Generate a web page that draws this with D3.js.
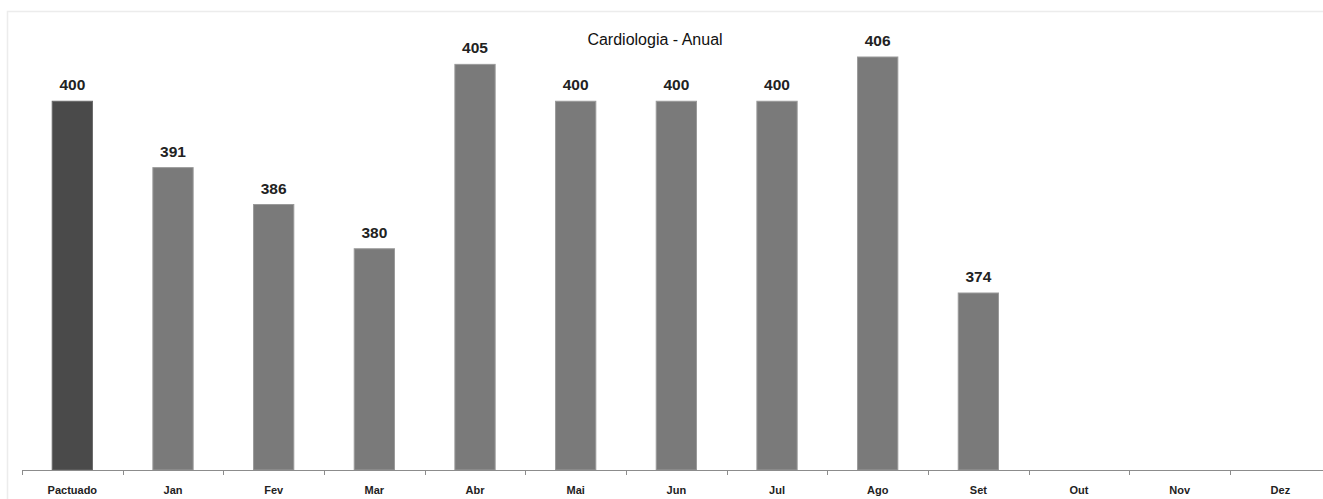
<!DOCTYPE html>
<html><head><meta charset="utf-8">
<script src="https://cdn.jsdelivr.net/npm/d3@7"></script>
<style>body{margin:0;background:#fff;overflow:hidden}svg{display:block}</style>
</head><body><svg id="c" width="1323" height="499"></svg>
<script>
const categories = ["Pactuado","Jan","Fev","Mar","Abr","Mai","Jun","Jul","Ago","Set","Out","Nov","Dez"];
const values = [400,391,386,380,405,400,400,400,406,374,null,null,null];
const title = "Cardiologia - Anual";
const yDomain = [350, 410];

const svg = d3.select("#c");
const font = "'Liberation Sans', Arial, sans-serif";

// frame
svg.append("rect").attr("x",7.5).attr("y",11.5).attr("width",1340).attr("height",520)
  .attr("fill","none").attr("stroke","#ececec").attr("stroke-width",1.5);

const x = d3.scaleBand().domain(categories).range([22, 22 + 13*100.67]).paddingInner(0.6).paddingOuter(0.3);
const y = d3.scaleLinear().domain(yDomain).range([470, 27.5]);

const data = categories.map((c,i)=>({c, v: values[i]})).filter(d=>d.v!=null);

svg.append("g").selectAll("rect").data(data).join("rect")
  .attr("x", d=>x(d.c)).attr("width", x.bandwidth())
  .attr("y", d=>y(d.v)).attr("height", d=>y(yDomain[0]) - y(d.v))
  .attr("fill", (d,i)=> i===0 ? "#4a4a4a" : "#7a7a7a")
  .attr("stroke", (d,i)=> i===0 ? "#6a6a6a" : "#9a9a9a").attr("stroke-width",1);

svg.append("g").selectAll("text").data(data).join("text")
  .attr("x", d=>x(d.c)+x.bandwidth()/2).attr("y", d=>y(d.v)-11)
  .attr("text-anchor","middle").attr("font-family",font).attr("font-weight","bold")
  .attr("font-size","15.5px").attr("fill","#222").text(d=>d.v);

// axis
const band = x.step();
const axisG = svg.append("g");
axisG.append("line").attr("x1",22).attr("x2",1340).attr("y1",470.5).attr("y2",470.5)
  .attr("stroke","#8c8c8c").attr("stroke-width",1.2);
const tickXs = categories.map(c => x(c) - x.paddingInner()*band/2).concat([x(categories[12]) + x.bandwidth() + x.paddingInner()*band/2]);
axisG.selectAll("line.t").data(tickXs).join("line").attr("class","t")
  .attr("x1",d=>Math.round(d)+0.5).attr("x2",d=>Math.round(d)+0.5).attr("y1",470).attr("y2",475)
  .attr("stroke","#8c8c8c").attr("stroke-width",1);
axisG.selectAll("text").data(categories).join("text")
  .attr("x", d=>x(d)+x.bandwidth()/2).attr("y", 494)
  .attr("text-anchor","middle").attr("font-family",font).attr("font-weight","bold")
  .attr("font-size","11px").attr("fill","#222").text(d=>d);

svg.append("text").attr("x",655).attr("y",45).attr("text-anchor","middle")
  .attr("font-family",font).attr("font-size","16px").attr("fill","#111").text(title);
</script></body></html>
